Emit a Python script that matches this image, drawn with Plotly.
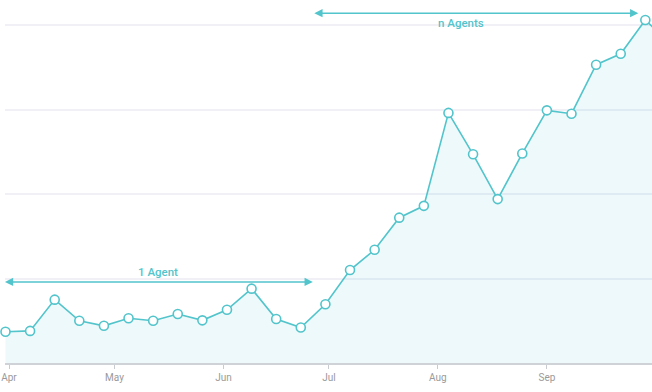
import plotly.graph_objects as go
import pandas as pd

# ---- data ----
week_start = "2018-03-31"
values = [37, 38, 75, 50, 44, 53, 50, 58, 50.5, 63, 88, 52, 42, 69.5, 110,
          134, 172, 186, 296, 247, 194, 248, 299, 295, 353, 366, 406, 378]
dates = pd.date_range(week_start, periods=len(values), freq="7D")

tick_dates = ["2018-04-01", "2018-05-01", "2018-06-01", "2018-07-01", "2018-08-01", "2018-09-01"]
tick_labels = ["Apr", "May", "Jun", "Jul", "Aug", "Sep"]
grid_vals = [100, 200, 300, 400]

x_range = ["2018-03-30 20:40", "2018-09-30 21:30"]
y_range = [0, 429.6]

# annotation spans (start, end, arrow level, label, label position)
agent1 = dict(start="2018-03-30 10:00", end="2018-06-26 10:00", level=96,
              label="1 Agent", lx="2018-05-13 10:00", ly=108)
agentn = dict(start="2018-06-26 10:00", end="2018-09-27 00:00", level=414,
              label="n Agents", lx="2018-08-07 14:00", ly=402)

teal = "#52c4cb"

fig = go.Figure()
fig.add_trace(go.Scatter(
    x=dates, y=values, mode="lines+markers",
    line=dict(color=teal, width=1.6),
    marker=dict(size=9, color="white", line=dict(color=teal, width=1.6)),
    fill="tozeroy", fillcolor="rgba(82,196,203,0.1)",
    cliponaxis=False,
    hoverinfo="skip", showlegend=False,
))

for span in (agent1, agentn):
    fig.add_annotation(
        x=span["end"], y=span["level"], ax=span["start"], ay=span["level"],
        xref="x", yref="y", axref="x", ayref="y", text="",
        showarrow=True, arrowhead=2, arrowside="end+start",
        arrowsize=1.1, arrowwidth=1.5, arrowcolor=teal, standoff=0, startstandoff=0,
    )
    fig.add_annotation(
        x=span["lx"], y=span["ly"], xref="x", yref="y", text=span["label"],
        showarrow=False,
        font=dict(family="Roboto, Arial", size=11.5, color=teal, weight=500),
    )

fig.update_layout(
    width=652, height=392,
    margin=dict(l=5, r=0, t=0, b=29, autoexpand=False),
    paper_bgcolor="white", plot_bgcolor="white",
    showlegend=False,
    xaxis=dict(
        range=x_range, tickvals=tick_dates, ticktext=tick_labels,
        showgrid=False, zeroline=False,
        showline=True, linecolor="#cfd2d6", linewidth=1.5,
        ticks="outside", ticklen=4, tickcolor="#c8cbcf", tickwidth=1,
        tickfont=dict(family="Roboto, Arial", size=10, color="#9a9a9a"),
        fixedrange=True,
    ),
    yaxis=dict(
        range=y_range, tickvals=grid_vals, showticklabels=False,
        showgrid=True, gridcolor="#f0f0f6", gridwidth=1.5,
        zeroline=False, showline=False, fixedrange=True,
    ),
)

fig.write_html(
    "out.html",
    config={"displayModeBar": False},
    post_script="document.body.style.margin='0';document.body.style.overflow='hidden';",
)
